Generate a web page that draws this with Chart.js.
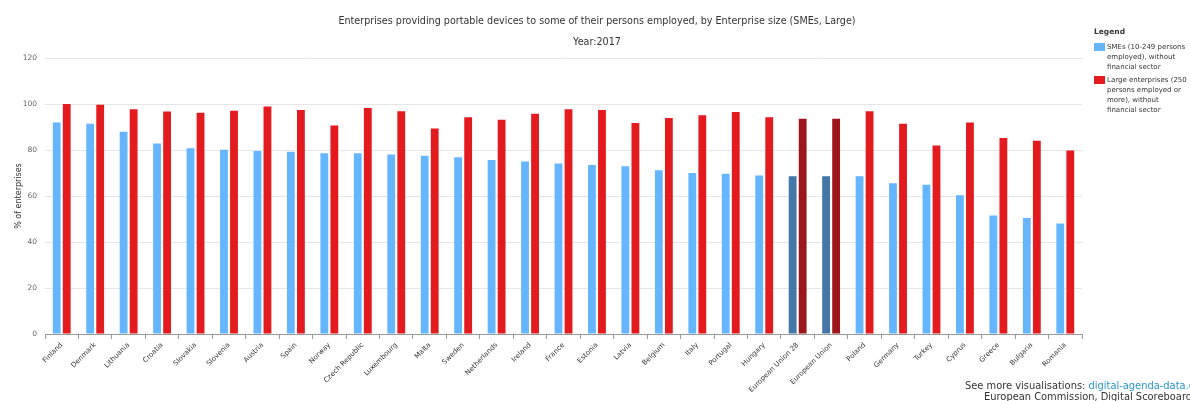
<!DOCTYPE html>
<html>
<head>
<meta charset="utf-8">
<script src="https://cdn.jsdelivr.net/npm/chart.js@4.4.1/dist/chart.umd.min.js"></script>
<style>
  html, body { margin: 0; padding: 0; background: #fff; }
  #wrap { position: relative; width: 1190px; height: 401px; overflow: hidden; font-family: "DejaVu Sans", sans-serif; }
  .title { position: absolute; left: 0; width: 1194px; text-align: center; color: #333; font-size: 9.6px; white-space: nowrap; }
  #legend { position: absolute; left: 1094px; top: 27px; width: 96px; color: #333; font-size: 7px; }
  #legend .head { font-weight: bold; font-size: 7.5px; margin-bottom: 6px; }
  #legend .item { position: relative; padding-left: 13px; line-height: 10px; margin-bottom: 3px; }
  #legend .box { position: absolute; left: 0; top: 1px; width: 11px; height: 8px; }
  .credit { position: absolute; white-space: nowrap; font-size: 9.9px; color: #333; }
  .credit a { color: #2b95c9; text-decoration: none; }
</style>
</head>
<body>
<div id="wrap">
  <canvas id="bar-chart"></canvas>
  <div class="title" style="top:15px;">Enterprises providing portable devices to some of their persons employed, by Enterprise size (SMEs, Large)</div>
  <div class="title" style="top:36px;">Year:2017</div>
  <div id="legend"></div>
  <div class="credit" style="left:965px; top:380px;">See more visualisations: <a>digital-agenda-data.eu</a></div>
  <div class="credit" style="left:984px; top:391px;">European Commission, Digital Scoreboard</div>
</div>
<script>
const countries = ['Finland', 'Denmark', 'Lithuania', 'Croatia', 'Slovakia', 'Slovenia', 'Austria', 'Spain', 'Norway',
  'Czech Republic', 'Luxembourg', 'Malta', 'Sweden', 'Netherlands', 'Ireland', 'France', 'Estonia', 'Latvia',
  'Belgium', 'Italy', 'Portugal', 'Hungary', 'European Union 28', 'European Union', 'Poland', 'Germany', 'Turkey',
  'Cyprus', 'Greece', 'Bulgaria', 'Romania'];
const smes = [92.0, 91.4, 87.9, 82.8, 80.8, 80.1, 79.6, 79.2, 78.6, 78.6, 78.0, 77.5, 76.9, 75.7, 75.0, 74.1, 73.5,
  72.9, 71.2, 70.0, 69.7, 68.9, 68.6, 68.6, 68.6, 65.5, 64.9, 60.3, 51.5, 50.4, 48.0];
const large = [100.0, 99.7, 97.7, 96.7, 96.2, 97.1, 98.9, 97.4, 90.6, 98.3, 96.8, 89.4, 94.2, 93.2, 95.8, 97.7, 97.4,
  91.7, 93.9, 95.1, 96.5, 94.2, 93.6, 93.6, 96.8, 91.4, 82.0, 92.0, 85.2, 84.0, 79.8];
const yTicks = [0, 20, 40, 60, 80, 100, 120];
const highlighted = ['European Union 28', 'European Union'];

const seriesNames = ['SMEs (10-249 persons employed), without financial sector',
  'Large enterprises (250 persons employed or more), without financial sector'];
const seriesColors = ['#66b6ff', '#e31a1e'];
const highlightColors = ['#4277a8', '#9c161b'];

function colorsFor(i) {
  return countries.map(c => highlighted.includes(c) ? highlightColors[i] : seriesColors[i]);
}

// legend
const legendEl = document.getElementById('legend');
let html = '<div class="head">Legend</div>';
seriesNames.forEach((name, i) => {
  html += '<div class="item"><span class="box" style="background:' + seriesColors[i] + '"></span>' + name + '</div>';
});
legendEl.innerHTML = html;

const chart_data = {
  labels: countries,
  datasets: [
    { label: seriesNames[0], data: smes, backgroundColor: colorsFor(0) },
    { label: seriesNames[1], data: large, backgroundColor: colorsFor(1) }
  ]
};

const options = {
  responsive: true,
  maintainAspectRatio: false,
  animation: false,
  layout: { padding: { left: 12, right: 108, top: 58, bottom: 0 } },
  datasets: { bar: { categoryPercentage: 0.6, barPercentage: 0.78 } },
  plugins: {
    legend: { display: false },
    tooltip: { enabled: false }
  },
  scales: {
    x: {
      grid: { display: true, drawOnChartArea: false, offset: true, tickLength: 5, color: '#999' },
      border: { display: true, color: '#999' },
      ticks: { color: '#333', font: { family: 'DejaVu Sans', size: 7 }, minRotation: 45, maxRotation: 45, autoSkip: false, padding: 2 },
      afterFit: s => { s.height = 67; }
    },
    y: {
      min: 0,
      max: 120,
      afterBuildTicks: s => { s.ticks = yTicks.map(v => ({ value: v })); },
      grid: { color: '#e6e6e6', drawTicks: false },
      border: { display: false },
      ticks: { color: '#666', font: { family: 'DejaVu Sans', size: 7.5 }, padding: 8 },
      title: { display: true, text: '% of enterprises', color: '#333', font: { family: 'DejaVu Sans', size: 8 }, padding: { top: 2, bottom: 0 } },
      afterFit: s => { s.width = 33; }
    }
  }
};

const ctx = document.getElementById('bar-chart').getContext('2d');
const graph1 = new Chart(ctx, { type: 'bar', data: chart_data, options: options });
</script>
</body>
</html>
